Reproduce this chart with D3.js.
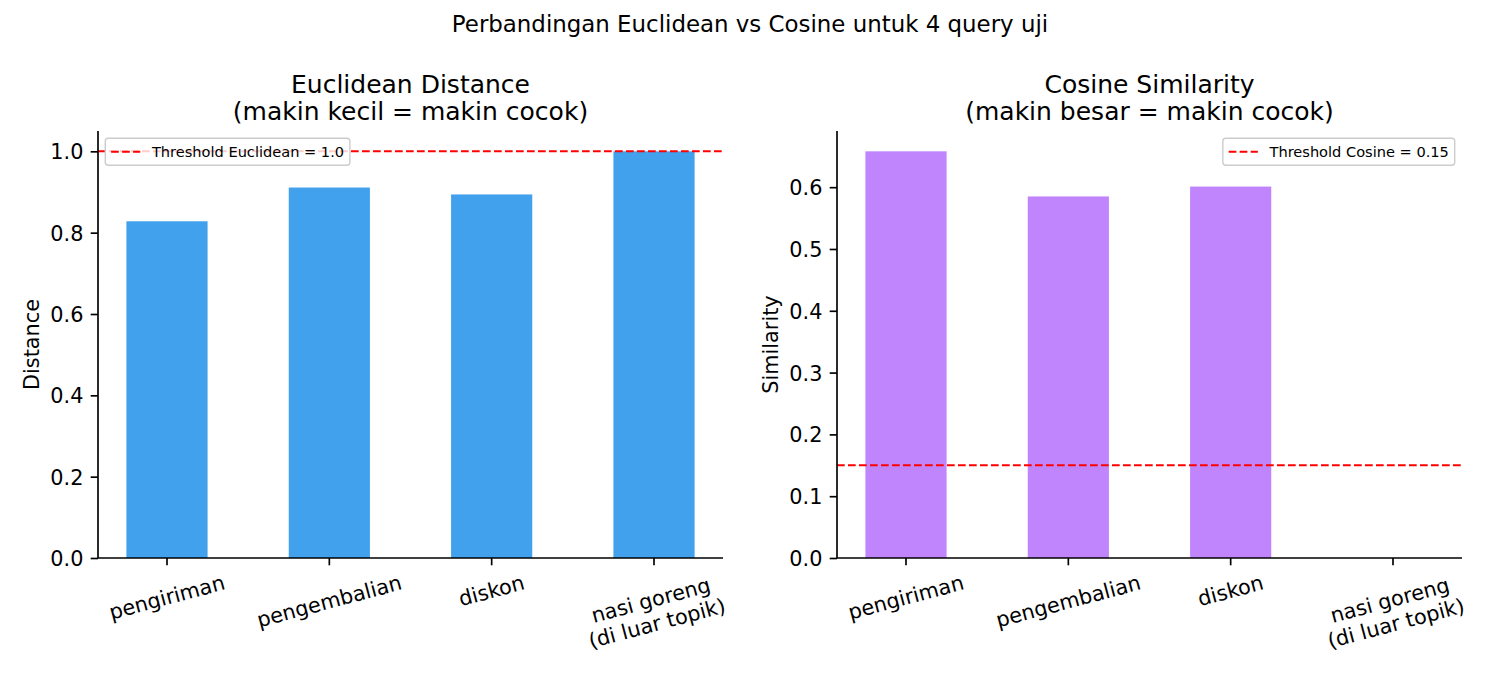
<!DOCTYPE html>
<html>
<head>
<meta charset="utf-8">
<script src="https://cdn.jsdelivr.net/npm/d3@7"></script>
<style>
    body { margin: 0; background: #fff; }
    svg text { font-family: "DejaVu Sans", sans-serif; fill: #000; }
</style>
</head>
<body>
<div id="chart"></div>
<script>
// data
var queries = ["pengiriman", "pengembalian", "diskon", "nasi goreng\n(di luar topik)"];
var euclideanValues = [0.828, 0.911, 0.894, 1.0];
var cosineValues = [0.658, 0.585, 0.601, 0.0];
var euclideanTicks = [0.0, 0.2, 0.4, 0.6, 0.8, 1.0];
var cosineTicks = [0.0, 0.1, 0.2, 0.3, 0.4, 0.5, 0.6];
var euclideanThreshold = 1.0;
var cosineThreshold = 0.15;

var svgWidth = 1500;
var svgHeight = 675;

var svg = d3.select("#chart").append("svg")
    .attr("width", svgWidth)
    .attr("height", svgHeight);

svg.append("text")
    .attr("x", 750)
    .attr("y", 31.5)
    .attr("text-anchor", "middle")
    .style("font-size", "22.9px")
    .text("Perbandingan Euclidean vs Cosine untuk 4 query uji");

var panels = [
    {
        left: 98, right: 723, values: euclideanValues, ticks: euclideanTicks,
        color: "#41a1ed", ylabel: "Distance", ylabelX: 39,
        title: ["Euclidean Distance", "(makin kecil = makin cocok)"],
        threshold: euclideanThreshold, legend: "Threshold Euclidean = 1.0", legendSide: "left"
    },
    {
        left: 837, right: 1462, values: cosineValues, ticks: cosineTicks,
        color: "#c084fc", ylabel: "Similarity", ylabelX: 778,
        title: ["Cosine Similarity", "(makin besar = makin cocok)"],
        threshold: cosineThreshold, legend: "Threshold Cosine = 0.15", legendSide: "right"
    }
];

var plotTop = 131, plotBottom = 558;
var tickLen = 7.3, tickPad = 7.3;

panels.forEach(function (p) {
    var g = svg.append("g");

    var x = d3.scaleBand()
        .domain(queries)
        .range([p.left, p.right])
        .paddingInner(0.5)
        .paddingOuter(0.175);

    var y = d3.scaleLinear()
        .domain([0, d3.max(p.values) * 1.05])
        .range([plotBottom, plotTop]);

    // bars
    g.selectAll(".bar")
        .data(p.values)
        .enter().append("rect")
        .attr("class", "bar")
        .attr("x", function (d, i) { return x(queries[i]); })
        .attr("width", x.bandwidth())
        .attr("y", function (d) { return y(d); })
        .attr("height", function (d) { return plotBottom - y(d); })
        .style("fill", p.color);

    // threshold line
    g.append("line")
        .attr("x1", p.left).attr("x2", p.right)
        .attr("y1", y(p.threshold)).attr("y2", y(p.threshold))
        .style("stroke", "red")
        .style("stroke-width", 2.08)
        .style("stroke-dasharray", "7.7,3.3");

    // y axis
    var yAxis = d3.axisLeft(y)
        .tickValues(p.ticks)
        .tickFormat(d3.format(".1f"))
        .tickSize(tickLen)
        .tickPadding(tickPad);
    var ya = g.append("g")
        .attr("transform", "translate(" + p.left + ",0)")
        .call(yAxis);
    ya.select(".domain").attr("d", "M0," + plotTop + "V" + plotBottom)
        .style("stroke", "#000").style("stroke-width", 1.67);
    ya.selectAll(".tick line").style("stroke", "#000").style("stroke-width", 1.67);
    ya.selectAll(".tick text")
        .attr("dy", "0.36em")
        .style("font-size", "20.8px")
        .style("font-family", "DejaVu Sans")
        .style("fill", "#000");

    // x axis
    var xAxis = d3.axisBottom(x)
        .tickSize(tickLen)
        .tickFormat("");
    var xa = g.append("g")
        .attr("transform", "translate(0," + plotBottom + ")")
        .call(xAxis);
    xa.select(".domain").attr("d", "M" + p.left + ",0H" + p.right)
        .style("stroke", "#000").style("stroke-width", 1.67);
    xa.selectAll(".tick line").style("stroke", "#000").style("stroke-width", 1.67);

    // rotated tick labels, bbox centred under tick (matplotlib style)
    queries.forEach(function (q) {
        var cx = x(q) + x.bandwidth() / 2;
        var lines = q.split("\n");
        var lg = g.append("g");
        var inner = lg.append("g").attr("transform", "rotate(-15)");
        var t = inner.append("text")
            .attr("text-anchor", "middle")
            .style("font-size", "20.8px");
        lines.forEach(function (ln, k) {
            t.append("tspan").attr("x", 0).attr("dy", k === 0 ? 0 : "1.15em").text(ln);
        });
        var bb = lg.node().getBBox();
        var tx = cx - (bb.x + bb.width / 2);
        var ty = plotBottom + tickLen + tickPad - 2 - bb.y;
        lg.attr("transform", "translate(" + tx + "," + ty + ")");
    });

    // y label
    svg.append("text")
        .attr("transform", "translate(" + p.ylabelX + "," + ((plotTop + plotBottom) / 2) + ") rotate(-90)")
        .attr("text-anchor", "middle")
        .style("font-size", "20.8px")
        .text(p.ylabel);

    // title
    var cxAxes = (p.left + p.right) / 2;
    svg.append("text")
        .attr("x", cxAxes).attr("y", 92.5)
        .attr("text-anchor", "middle")
        .style("font-size", "25px")
        .text(p.title[0]);
    svg.append("text")
        .attr("x", cxAxes).attr("y", 119.5)
        .attr("text-anchor", "middle")
        .style("font-size", "25px")
        .text(p.title[1]);

    // legend
    var fs = 14.58;
    var lgd = svg.append("g");
    var box = lgd.append("rect")
        .attr("rx", 3).attr("ry", 3)
        .style("fill", "#fff").style("fill-opacity", 0.8)
        .style("stroke", "#ccc").style("stroke-width", 1.4);
    var lt = lgd.append("text")
        .style("font-size", fs + "px")
        .text(p.legend);
    var tw = lt.node().getComputedTextLength();
    var bw = 0.4 * fs * 2 + 2 * fs + 0.8 * fs + tw;
    var bh = 27;
    var bx = p.legendSide === "left" ? p.left + 0.5 * fs : p.right - 0.5 * fs - bw;
    var by = plotTop + 0.5 * fs;
    box.attr("x", bx).attr("y", by).attr("width", bw).attr("height", bh);
    lgd.append("line")
        .attr("x1", bx + 0.4 * fs).attr("x2", bx + 0.4 * fs + 2 * fs)
        .attr("y1", by + bh / 2).attr("y2", by + bh / 2)
        .style("stroke", "red")
        .style("stroke-width", 2.08)
        .style("stroke-dasharray", "7.7,3.3");
    lt.attr("x", bx + 0.4 * fs + 2.8 * fs).attr("y", by + bh / 2 + 5.2);
});
</script>
</body>
</html>
